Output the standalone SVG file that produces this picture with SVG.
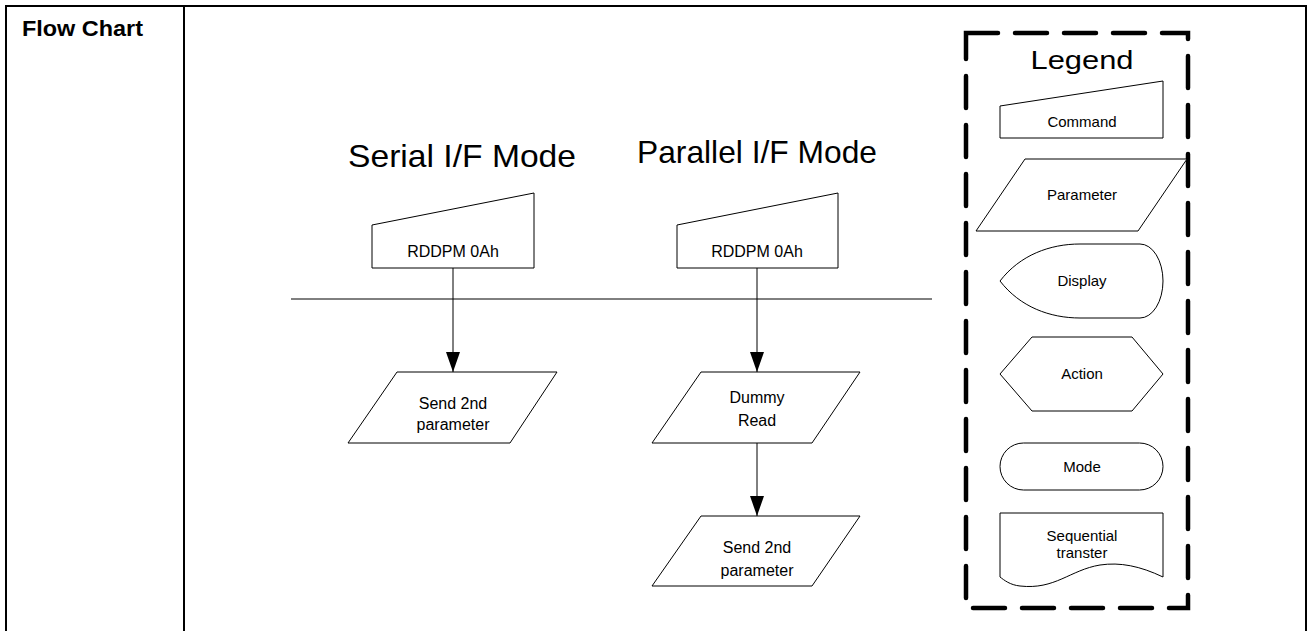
<svg xmlns="http://www.w3.org/2000/svg" width="1309" height="631" viewBox="0 0 1309 631">
<defs>
<style>
.frame{fill:none;stroke:#000;stroke-width:2}
.shape{fill:#fff;stroke:#000;stroke-width:1}
.lbl{font-family:"Liberation Sans",Arial,sans-serif;font-size:16px;fill:#000;text-anchor:middle}
.leg{font-family:"Liberation Sans",Arial,sans-serif;font-size:15px;fill:#000;text-anchor:middle}
.head{font-family:"Liberation Sans",Arial,sans-serif;font-size:32px;fill:#000;text-anchor:middle}
.conn{fill:none;stroke:#000;stroke-width:1}
</style>
<marker id="arr" viewBox="0 0 20 14" refX="20" refY="7" markerWidth="20" markerHeight="14" markerUnits="userSpaceOnUse" orient="auto">
<path d="M0,0 L20,7 L0,14 Z" fill="#000"/>
</marker>
</defs>
<rect width="1309" height="631" fill="#fff"/>
<g id="frame">
<path class="frame" d="M6,631 V6 H1306 V631"/>
<line class="frame" x1="184" y1="6" x2="184" y2="631"/>
<text x="22" y="36" font-family="Liberation Sans,Arial,sans-serif" font-weight="bold" font-size="22" fill="#000" textLength="121" lengthAdjust="spacingAndGlyphs">Flow Chart</text>
</g>
<g id="titles">
<text class="head" x="462" y="167" textLength="228" lengthAdjust="spacingAndGlyphs">Serial I/F Mode</text>
<text class="head" x="757" y="163" textLength="240" lengthAdjust="spacingAndGlyphs">Parallel I/F Mode</text>
</g>
<g id="connectors">
<line class="conn" x1="291" y1="299" x2="932" y2="299"/>
<line class="conn" x1="453" y1="268" x2="453" y2="372" marker-end="url(#arr)"/>
<line class="conn" x1="757" y1="268" x2="757" y2="372" marker-end="url(#arr)"/>
<line class="conn" x1="757" y1="443" x2="757" y2="516" marker-end="url(#arr)"/>
</g>
<g id="serial-cmd">
<path class="shape" d="M372,225 L534,193 L534,268 L372,268 Z"/>
<text class="lbl" x="453" y="257">RDDPM 0Ah</text>
</g>
<g id="serial-param">
<path class="shape" d="M397,372 L557,372 L510,443 L348,443 Z"/>
<text class="lbl" x="453" y="409">Send 2nd</text>
<text class="lbl" x="453" y="430">parameter</text>
</g>
<g id="parallel-cmd">
<path class="shape" d="M677,225 L838,193 L838,268 L677,268 Z"/>
<text class="lbl" x="757" y="257">RDDPM 0Ah</text>
</g>
<g id="dummy-read">
<path class="shape" d="M701,372 L860,372 L812,443 L652,443 Z"/>
<text class="lbl" x="757" y="403">Dummy</text>
<text class="lbl" x="757" y="426">Read</text>
</g>
<g id="parallel-param">
<path class="shape" d="M701,516 L860,516 L812,586 L652,586 Z"/>
<text class="lbl" x="757" y="553">Send 2nd</text>
<text class="lbl" x="757" y="576">parameter</text>
</g>
<g id="legend">
<rect x="966" y="33" width="222" height="575" fill="none" stroke="#000" stroke-width="4.5" stroke-dasharray="32 17" stroke-linecap="round"/>
<text x="1082" y="69" font-family="Liberation Sans,Arial,sans-serif" font-size="26" text-anchor="middle" textLength="103" lengthAdjust="spacingAndGlyphs">Legend</text>
</g>
<g id="legend-command">
<path class="shape" d="M1000,106 L1163,81 L1163,138 L1000,138 Z"/>
<text class="leg" x="1082" y="127">Command</text>
</g>
<g id="legend-parameter">
<path class="shape" d="M1025,159 L1187,159 L1138,231 L976,231 Z"/>
<text class="leg" x="1082" y="200">Parameter</text>
</g>
<g id="legend-display">
<path class="shape" d="M1000,281 C1020,255 1050,244 1080,244 L1140,244 A23,37 0 0 1 1140,318 L1080,318 C1050,318 1020,307 1000,281 Z"/>
<text class="leg" x="1082" y="286">Display</text>
</g>
<g id="legend-action">
<path class="shape" d="M1000,374 L1032,337 L1132,337 L1163,374 L1132,411 L1032,411 Z"/>
<text class="leg" x="1082" y="379">Action</text>
</g>
<g id="legend-mode">
<rect class="shape" x="1000" y="443" width="163" height="47" rx="23.5" ry="23.5"/>
<text class="leg" x="1082" y="472">Mode</text>
</g>
<g id="legend-seq">
<path class="shape" d="M1000,513 L1163,513 L1163,577 C1140,566 1120,562 1100,565 C1070,570 1055,590 1020,586 C1010,585 1004,580 1000,577 Z"/>
<text class="leg" x="1082" y="541">Sequential</text>
<text class="leg" x="1082" y="558">transter</text>
</g>
</svg>
